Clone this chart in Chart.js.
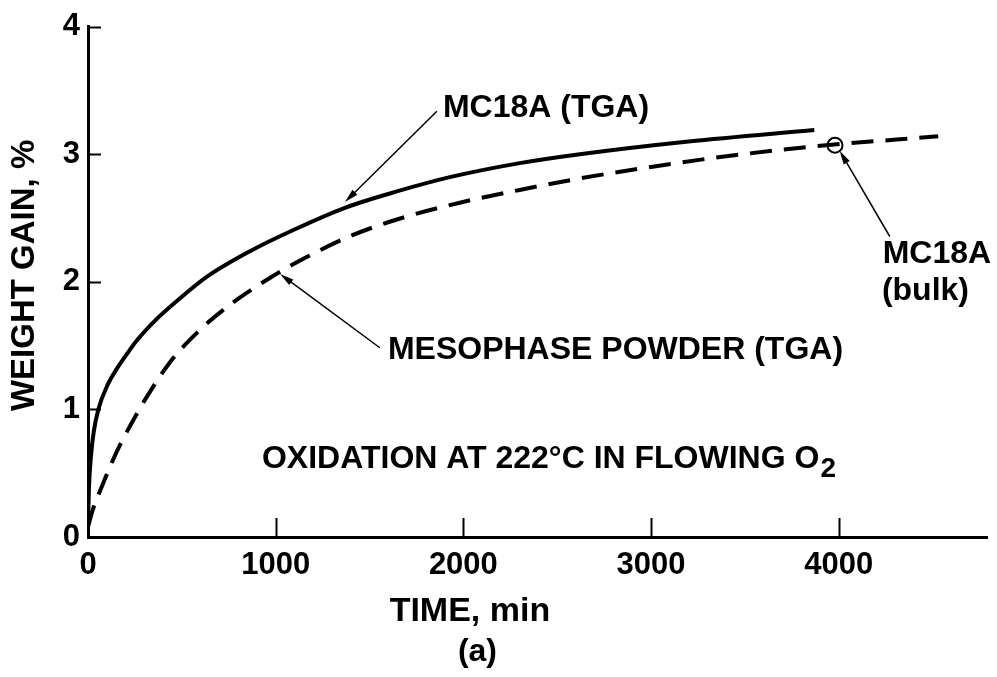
<!DOCTYPE html>
<html><head><meta charset="utf-8">
<script src="https://cdn.jsdelivr.net/npm/chart.js@4.4.0/dist/chart.umd.min.js"></script>
<style>html,body{margin:0;padding:0;background:#fff;}canvas{display:block;}</style>
</head><body>
<canvas id="c" width="997" height="677"></canvas>
<script>
// ---- data ----
const xTickValues = [0, 1000, 2000, 3000, 4000];
const yTickValues = [0, 1, 2, 3, 4];
const mc18aTime = [0, 5, 15, 30, 55, 107, 154, 210, 260, 360, 474, 634, 863, 1100, 1369, 1650, 1928, 2300, 2620, 3200, 3870];
const mc18aGain = [0.08, 0.38, 0.62, 0.82, 1.0, 1.2, 1.32, 1.44, 1.54, 1.70, 1.85, 2.04, 2.24, 2.41, 2.58, 2.71, 2.82, 2.93, 3.0, 3.1, 3.19];
const powderTime = [0, 27, 64, 117, 170, 224, 314, 437, 580, 756, 969, 1160, 1400, 1650, 1981, 2300, 2620, 3000, 3329, 3862, 4530];
const powderGain = [0.08, 0.22, 0.36, 0.55, 0.72, 0.87, 1.1, 1.37, 1.6, 1.82, 2.03, 2.19, 2.36, 2.49, 2.62, 2.72, 2.81, 2.9, 2.97, 3.06, 3.14];
const bulkTime = [3980];
const bulkGain = [3.07];
const xTitle = 'TIME, min';
const yTitle = 'WEIGHT GAIN, %';
const panelLabel = '(a)';
const xMax = 4790;
const yMax = 4;

// ---- annotation anchors (data coordinates) ----
const labels = [
  {text: 'MC18A (TGA)', x: 1891, y: 3.36},
  {text: 'MESOPHASE POWDER (TGA)', x: 1598, y: 1.467},
  {text: 'MC18A', x: 4234, y: 2.216},
  {text: '(bulk)', x: 4230, y: 1.93}
];
const arrows = [
  {from: [1859, 3.336], to: [1369, 2.625]},
  {from: [1555, 1.483], to: [1023, 2.062]},
  {from: [4272, 2.355], to: [4005, 3.027]}
];
const condition = {text: 'OXIDATION AT 222\u00B0C IN FLOWING O', sub: '2', x: 927, y: 0.61};

const FAM = '"Liberation Sans", Arial, Helvetica, sans-serif';
const FONT = 'bold 32px ' + FAM;
const SUBFONT = 'bold 28px ' + FAM;
const XTITLEFONT = 'bold 34px ' + FAM;
const YTITLEFONT = 'bold 33px ' + FAM;

const toXY = (xs, ys) => xs.map((x, i) => ({x, y: ys[i]}));

const extras = {
  id: 'extras',
  afterDraw(chart) {
    const {ctx, chartArea: a, scales: {x, y}} = chart;
    ctx.save();
    ctx.strokeStyle = '#000';
    ctx.fillStyle = '#000';
    // inward ticks
    ctx.lineWidth = 2;
    yTickValues.forEach(v => {
      if (v === 0) return;
      const py = Math.round(y.getPixelForValue(v)) + 0.5;
      ctx.beginPath(); ctx.moveTo(a.left, py); ctx.lineTo(a.left + 13, py); ctx.stroke();
    });
    xTickValues.forEach(v => {
      if (v === 0) return;
      const px = Math.round(x.getPixelForValue(v)) + 0.5;
      ctx.beginPath(); ctx.moveTo(px, a.bottom); ctx.lineTo(px, a.bottom - 19); ctx.stroke();
    });
    // arrows
    ctx.lineWidth = 1.5;
    arrows.forEach(ar => {
      const x1 = x.getPixelForValue(ar.from[0]), y1 = y.getPixelForValue(ar.from[1]);
      const x2 = x.getPixelForValue(ar.to[0]), y2 = y.getPixelForValue(ar.to[1]);
      const ang = Math.atan2(y2 - y1, x2 - x1);
      ctx.beginPath(); ctx.moveTo(x1, y1); ctx.lineTo(x2 - 8 * Math.cos(ang), y2 - 8 * Math.sin(ang)); ctx.stroke();
      const L = 14, W = 3.5;
      ctx.beginPath();
      ctx.moveTo(x2, y2);
      ctx.lineTo(x2 - L * Math.cos(ang) + W * Math.sin(ang), y2 - L * Math.sin(ang) - W * Math.cos(ang));
      ctx.lineTo(x2 - L * Math.cos(ang) - W * Math.sin(ang), y2 - L * Math.sin(ang) + W * Math.cos(ang));
      ctx.closePath(); ctx.fill();
    });
    // text labels
    ctx.font = FONT;
    ctx.textBaseline = 'middle';
    ctx.textAlign = 'left';
    labels.forEach(l => ctx.fillText(l.text, x.getPixelForValue(l.x), y.getPixelForValue(l.y)));
    const cx = x.getPixelForValue(condition.x), cy = y.getPixelForValue(condition.y);
    ctx.fillText(condition.text, cx, cy);
    const w = ctx.measureText(condition.text).width;
    ctx.font = SUBFONT;
    ctx.fillText(condition.sub, cx + w + 1, cy + 10);
    // axis titles
    ctx.textAlign = 'center';
    ctx.font = XTITLEFONT;
    ctx.fillText(xTitle, x.getPixelForValue(2035), a.bottom + 75);
    ctx.font = FONT;
    ctx.fillText(panelLabel, x.getPixelForValue(2075), a.bottom + 115);
    ctx.save();
    ctx.font = YTITLEFONT;
    ctx.translate(25, y.getPixelForValue(2.05));
    ctx.rotate(-Math.PI / 2);
    ctx.fillText(yTitle, 0, 0);
    ctx.restore();
    ctx.restore();
  }
};

const tickFont = {family: FAM, size: 31, weight: 'bold'};

new Chart(document.getElementById('c'), {
  type: 'line',
  data: {
    datasets: [
      {label: 'MC18A (TGA)', data: toXY(mc18aTime, mc18aGain), borderColor: '#000', borderWidth: 4,
       pointRadius: 0, cubicInterpolationMode: 'monotone', fill: false},
      {label: 'MESOPHASE POWDER (TGA)', data: toXY(powderTime, powderGain), borderColor: '#000', borderWidth: 4,
       borderDash: [22, 12], pointRadius: 0, cubicInterpolationMode: 'monotone', fill: false},
      {label: 'MC18A (bulk)', type: 'scatter', data: toXY(bulkTime, bulkGain), pointRadius: 7.5,
       pointBackgroundColor: '#fff', pointBorderColor: '#000', pointBorderWidth: 2, showLine: false}
    ]
  },
  options: {
    responsive: false,
    devicePixelRatio: 1,
    animation: false,
    layout: {padding: {top: 19, right: 10, left: 0, bottom: 0}},
    plugins: {legend: {display: false}, tooltip: {enabled: false}},
    scales: {
      x: {
        type: 'linear', min: 0, max: xMax,
        afterBuildTicks: s => { s.ticks = xTickValues.map(v => ({value: v})); },
        afterFit: s => { s.height = 140; },
        grid: {display: false, drawTicks: false},
        border: {display: true, color: '#000', width: 3},
        ticks: {color: '#000', padding: 10, maxRotation: 0, font: tickFont, callback: v => String(v)}
      },
      y: {
        type: 'linear', min: 0, max: yMax,
        afterBuildTicks: s => { s.ticks = yTickValues.map(v => ({value: v})); },
        afterFit: s => { s.width = 88; },
        grid: {display: false, drawTicks: false},
        border: {display: true, color: '#000', width: 3},
        ticks: {color: '#000', padding: 8, font: tickFont, callback: v => String(v)}
      }
    }
  },
  plugins: [extras]
});
</script>
</body></html>
